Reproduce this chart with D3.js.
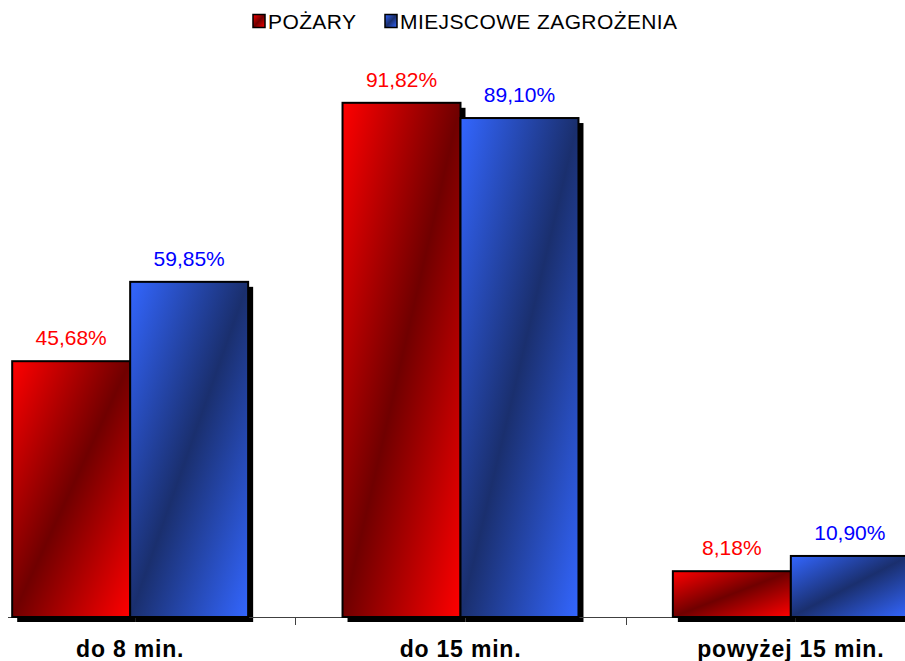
<!DOCTYPE html>
<html>
<head>
<meta charset="utf-8">
<script src="https://cdn.jsdelivr.net/npm/d3@7"></script>
<style>
  body { margin: 0; background: #fff; }
  svg { display: block; }
</style>
</head>
<body>
<svg id="chart" width="905" height="661"></svg>
<script>
const categories = ["do 8 min.", "do 15 min.", "powyżej 15 min."];
const seriesNames = ["POŻARY", "MIEJSCOWE ZAGROŻENIA"];
const pozary = [45.68, 91.82, 8.18];
const zagrozenia = [59.85, 89.10, 10.90];
const labelColors = ["#ff0000", "#0000ff"];

const svg = d3.select("#chart");
const baseline = 617;

// chart is cut off on the left and right like the original picture
const x = d3.scaleBand().domain(categories).range([-35, 956]).paddingInner(0).paddingOuter(0);
const x1 = d3.scaleBand().domain([0, 1]).range([0, x.bandwidth()]).paddingOuter(0.4);
const y = d3.scaleLinear().domain([0, 100]).range([baseline, 57]);

const defs = svg.append("defs");
const grads = [
  ["red", "#ff0000", "#700000"],
  ["blue", "#3366ff", "#1a2f6e"]
];
grads.forEach(([id, c1, c2]) => {
  const g = defs.append("linearGradient").attr("id", "g-" + id)
    .attr("x1", 0).attr("y1", 0).attr("x2", 1).attr("y2", 1);
  g.append("stop").attr("offset", "0%").attr("stop-color", c1);
  g.append("stop").attr("offset", "50%").attr("stop-color", c2);
  g.append("stop").attr("offset", "100%").attr("stop-color", c1);
});

const data = categories.map((c, i) => [
  { cat: c, s: 0, v: pozary[i] },
  { cat: c, s: 1, v: zagrozenia[i] }
]).flat();

// shadows
svg.append("g").selectAll("rect")
  .data(data).enter().append("rect")
  .attr("x", d => x(d.cat) + x1(d.s) + 5)
  .attr("y", d => y(d.v) + 5)
  .attr("width", x1.bandwidth())
  .attr("height", d => baseline - y(d.v))
  .attr("fill", "#000");

// axis
svg.append("line").attr("x1", 8).attr("x2", 905).attr("y1", baseline + 0.5).attr("y2", baseline + 0.5)
  .attr("stroke", "#404040").attr("stroke-width", 1);
svg.append("g").selectAll("line")
  .data(categories.slice(1)).enter().append("line")
  .attr("x1", d => Math.round(x(d)) + 0.5).attr("x2", d => Math.round(x(d)) + 0.5)
  .attr("y1", baseline).attr("y2", baseline + 8)
  .attr("stroke", "#404040");

// bars
svg.append("g").selectAll("rect")
  .data(data).enter().append("rect")
  .attr("x", d => x(d.cat) + x1(d.s))
  .attr("y", d => y(d.v))
  .attr("width", x1.bandwidth())
  .attr("height", d => baseline - y(d.v))
  .attr("fill", d => d.s === 0 ? "url(#g-red)" : "url(#g-blue)")
  .attr("stroke", "#000")
  .attr("stroke-width", 2);

// value labels
svg.append("g").selectAll("text")
  .data(data).enter().append("text")
  .attr("x", d => x(d.cat) + x1(d.s) + x1.bandwidth() / 2)
  .attr("y", d => y(d.v) - 16)
  .attr("text-anchor", "middle")
  .attr("font-family", "Liberation Sans, Arial, sans-serif")
  .attr("font-size", 21)
  .attr("fill", d => labelColors[d.s])
  .text(d => d.v.toFixed(2).replace(".", ",") + "%");

// category labels
svg.append("g").selectAll("text")
  .data(categories).enter().append("text")
  .attr("x", d => x(d) + x.bandwidth() / 2)
  .attr("y", 657)
  .attr("text-anchor", "middle")
  .attr("font-family", "Liberation Sans, Arial, sans-serif")
  .attr("font-weight", "bold")
  .attr("font-size", 23)
  .attr("letter-spacing", 0.8)
  .attr("fill", "#000")
  .text(d => d);

// legend
const legend = svg.append("g");
const legendX = [253, 385];
seriesNames.forEach((name, i) => {
  legend.append("rect")
    .attr("x", legendX[i]).attr("y", 14.5).attr("width", 12).attr("height", 13)
    .attr("fill", i === 0 ? "url(#g-red)" : "url(#g-blue)")
    .attr("stroke", "#000").attr("stroke-width", 1.5);
  legend.append("text")
    .attr("x", legendX[i] + 15).attr("y", 29)
    .attr("font-family", "Liberation Sans, Arial, sans-serif")
    .attr("font-size", 21)
    .attr("letter-spacing", 0.4)
    .attr("fill", "#000")
    .text(name);
});
</script>
</body>
</html>
